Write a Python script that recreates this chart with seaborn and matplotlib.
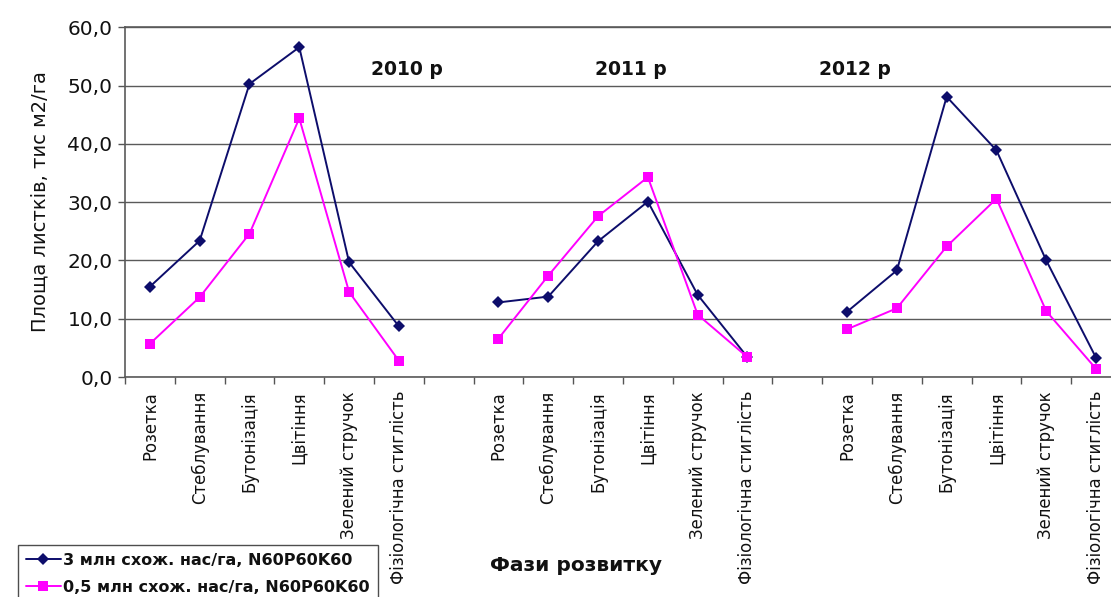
import matplotlib
matplotlib.use("Agg")
import numpy as np
import pandas as pd
import seaborn as sns
import matplotlib.pyplot as plt
from matplotlib.ticker import FuncFormatter

# ---- data ----
phases = ["Розетка", "Стеблування", "Бутонізація", "Цвітіння",
          "Зелений стручок", "Фізіологічна стиглість"]
years = ["2010 р", "2011 р", "2012 р"]
series_names = ["3 млн схож. нас/га, N60P60K60", "0,5 млн схож. нас/га, N60P60K60"]

dense_2010 = [15.5, 23.4, 50.3, 56.6, 19.7, 8.7]
dense_2011 = [12.8, 13.8, 23.3, 30.1, 14.1, 3.4]
dense_2012 = [11.2, 18.3, 48.1, 38.9, 20.0, 3.3]

sparse_2010 = [5.7, 13.7, 24.6, 44.4, 14.6, 2.8]
sparse_2011 = [6.6, 17.4, 27.6, 34.3, 10.7, 3.4]
sparse_2012 = [8.2, 11.8, 22.4, 30.6, 11.3, 1.4]

y_ticks = [0, 10, 20, 30, 40, 50, 60]
x_title = "Фази розвитку"
y_title = "Площа листків, тис м2/га"

# ---- build long table ----
rows = []
dense = [dense_2010, dense_2011, dense_2012]
sparse = [sparse_2010, sparse_2011, sparse_2012]
for yi, yr in enumerate(years):
    for pi, ph in enumerate(phases):
        pos = yi * (len(phases) + 1) + pi
        rows.append({"pos": pos, "value": dense[yi][pi], "series": series_names[0], "year": yr, "phase": ph})
        rows.append({"pos": pos, "value": sparse[yi][pi], "series": series_names[1], "year": yr, "phase": ph})
df = pd.DataFrame(rows)

sns.set_theme(style="white")
plt.rcParams["font.family"] = ["DejaVu Sans"]

fig = plt.figure(figsize=(11.11, 5.97), dpi=100)
ax = fig.add_axes([0.1125, 0.3685, 0.8875, 0.5856])

palette = {series_names[0]: "#0d0d6b", series_names[1]: "#ff00ff"}
markers = {series_names[0]: "D", series_names[1]: "s"}

sns.lineplot(data=df, x="pos", y="value", hue="series", style="series",
             units="year", estimator=None, palette=palette, markers=markers,
             dashes=False, linewidth=1.4, markersize=6.5, markeredgewidth=0,
             ax=ax, legend=True)

n_pos = len(years) * (len(phases) + 1) - 1   # 20 slots

# x ticks
tick_pos = df.drop_duplicates("pos")["pos"].tolist()
tick_lab = df.drop_duplicates("pos")["phase"].tolist()
ax.set_xticks(tick_pos)
ax.set_xticklabels(tick_lab, rotation=90, fontsize=11.9, color="#111111")
ax.set_xticks(np.arange(-0.5, n_pos, 1.0), minor=True)
ax.tick_params(axis="x", which="major", length=0, pad=10)
ax.tick_params(axis="x", which="minor", length=5, width=1, color="#555555", direction="out", bottom=True)

ax.set_yticks(y_ticks)
ax.yaxis.set_major_formatter(FuncFormatter(lambda v, p: f"{v:.1f}".replace(".", ",")))
ax.tick_params(axis="y", length=5, width=1, color="#555555", direction="out", left=True,
               labelsize=14.5, labelcolor="#111111", pad=4)

ax.set_xlim(-0.5, 19.3)
ax.set_ylim(0, 60)

ax.grid(axis="y", color="#5a5a5a", linewidth=1.0)
ax.set_axisbelow(True)
for s in ["left", "bottom", "top"]:
    ax.spines[s].set_color("#5a5a5a")
    ax.spines[s].set_linewidth(1.2)
ax.spines["right"].set_visible(False)

ax.set_xlabel("")
ax.set_ylabel("")

# year annotations
year_x = [5.16, 9.66, 14.16]
for yx, yr in zip(year_x, years):
    ax.text(yx, 52.7, yr, ha="center", va="center", fontsize=13.5, fontweight="bold", color="#111111")

fig.text(0.036, 0.663, y_title, rotation=90, ha="center", va="center", fontsize=14, color="#111111")
fig.text(0.5185, 0.052, x_title, ha="center", va="center", fontsize=14.5, fontweight="bold", color="#111111")

sns.move_legend(ax, loc="upper left", bbox_to_anchor=(0.016, 1 - 545 / 597),
                bbox_transform=fig.transFigure, title=None, frameon=True,
                fontsize=11.5, handlelength=2.2, handletextpad=0.15, borderpad=0.5,
                labelspacing=0.75, fancybox=False, borderaxespad=0)
leg = ax.get_legend()
leg.get_frame().set_edgecolor("#222222")
leg.get_frame().set_linewidth(1.0)
for t in leg.get_texts():
    t.set_color("#111111")
    t.set_fontweight("bold")

fig.savefig("out.png", dpi=100)
